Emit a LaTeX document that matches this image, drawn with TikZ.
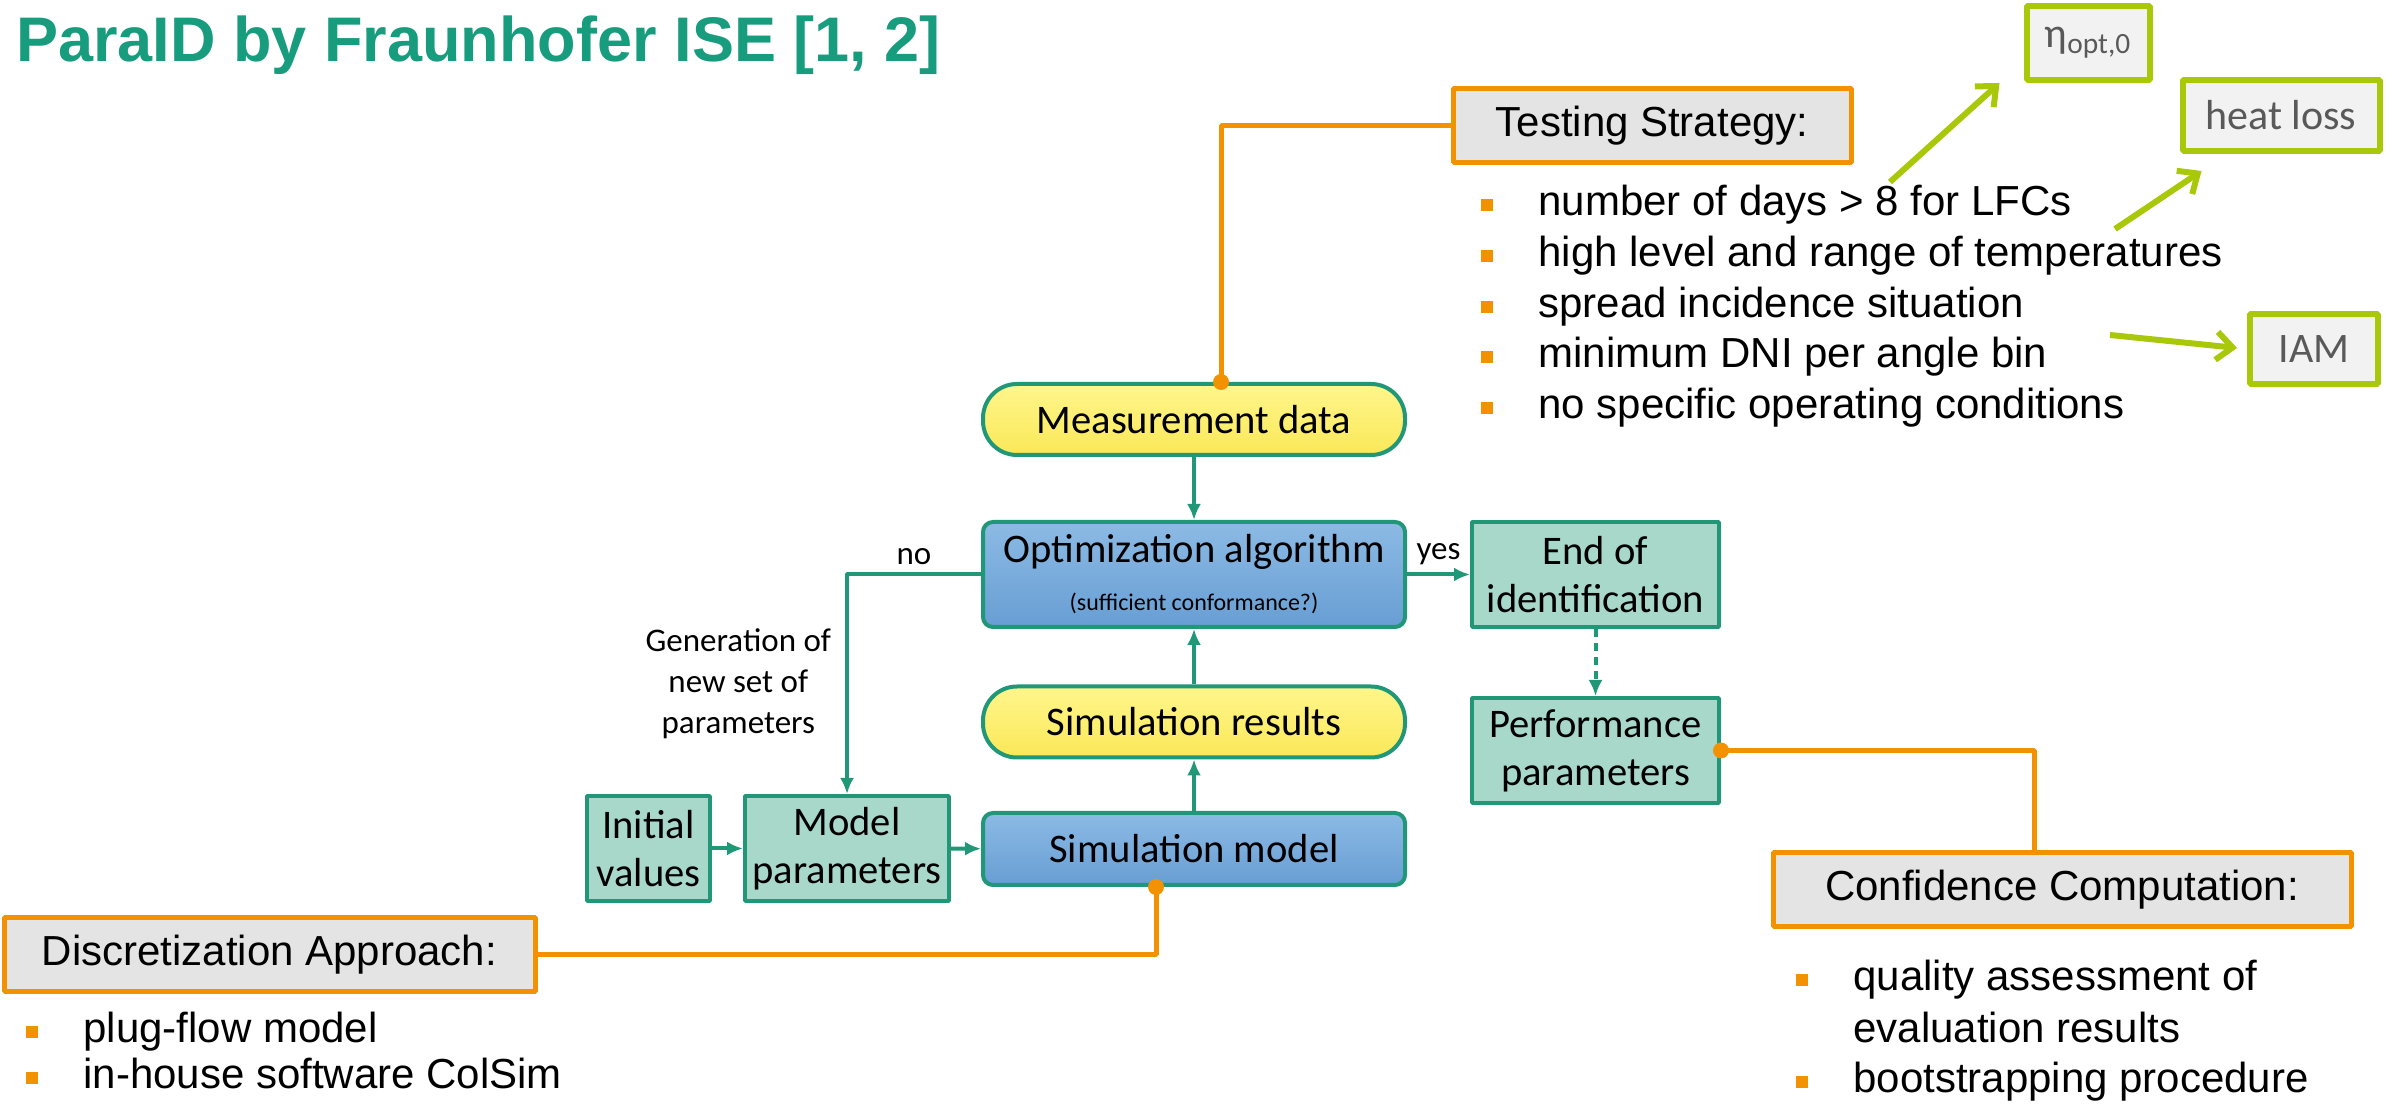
\documentclass[tikz,border=0pt]{standalone}
\usepackage{fontspec}
\setmainfont{Liberation Sans}
\newfontfamily\calfont{Carlito}
\usetikzlibrary{arrows.meta}
\definecolor{fraungreen}{RGB}{23,156,125}
\definecolor{flowline}{RGB}{32,152,120}
\definecolor{tealfill}{RGB}{168,216,201}
\definecolor{bluetop}{RGB}{140,186,228}
\definecolor{bluebot}{RGB}{104,158,212}
\definecolor{yellowtop}{RGB}{255,246,140}
\definecolor{yellowbot}{RGB}{250,232,88}
\definecolor{fraunorange}{RGB}{243,146,0}
\definecolor{boxgray}{RGB}{227,228,227}
\definecolor{limegreen}{RGB}{170,200,10}
\definecolor{palegray}{RGB}{242,242,242}
\definecolor{labelgray}{RGB}{89,89,89}
\begin{document}
\begin{tikzpicture}[>={Latex[length=8bp,width=7bp]},line join=bevel,
  flowtxt/.style={font=\calfont\fontsize{20.3bp}{24bp}\selectfont},
  pill/.style={flowtxt,draw=flowline,line width=2bp,rounded corners=17bp,top color=yellowtop,bottom color=yellowbot,minimum width=211bp,minimum height=35.5bp},
  bluebox/.style={flowtxt,draw=flowline,line width=2bp,rounded corners=5bp,top color=bluetop,bottom color=bluebot,minimum width=211bp,align=center},
  tealbox/.style={flowtxt,draw=flowline,line width=2bp,fill=tealfill,align=center,inner sep=2bp},
  note/.style={font=\calfont\fontsize{16.5bp}{20.5bp}\selectfont,align=center,inner sep=0pt},
  flow/.style={draw=flowline,line width=2bp},
  topic/.style={draw=fraunorange,line width=2.5bp,fill=boxgray,font=\fontsize{21bp}{25.4bp}\selectfont,minimum height=37bp},
  param/.style={draw=limegreen,line width=3bp,fill=palegray,text=labelgray,font=\calfont\fontsize{21bp}{25bp}\selectfont,minimum height=35.5bp},
  listcont/.style={anchor=west,inner sep=0pt,font=\fontsize{21bp}{25.4bp}\selectfont,text height=14.5bp,text depth=4bp},
  listline/.style={listcont,label={[fill=fraunorange,inner sep=0pt,minimum size=6bp,label distance=22.5bp]left:{}}},
  tie/.style={draw=fraunorange,line width=2.5bp},
  pointer/.style={draw=limegreen,line width=3bp,-{Straight Barb[length=8bp,width=14bp]}},
]
\useasboundingbox (0bp,0bp) rectangle (1197bp,552.5bp);
%%
\node (node_title) at (8bp,521.5bp) [anchor=base west,inner sep=0pt,text=fraungreen,font=\bfseries\fontsize{31.5bp}{38bp}\selectfont] {ParaID by Fraunhofer ISE [1, 2]};
%
  \node (node_test) at (826bp,489.5bp) [topic,minimum width=199bp] {Testing Strategy:};
  \node (node_disc) at (134.75bp,75bp) [topic,minimum width=265.5bp] {Discretization Approach:};
  \node (node_conf) at (1031bp,107.5bp) [topic,minimum width=289bp] {Confidence Computation:};
  \node (node_eta) at (1044bp,531bp) [param,minimum width=61.5bp,minimum height=37bp] {η\textsubscript{opt,0}};
  \node (node_heat) at (1140.5bp,494.75bp) [param,minimum width=98.5bp] {heat loss};
  \node (node_iam) at (1157bp,378bp) [param,minimum width=64bp,minimum height=35bp] {IAM};
%
  \node (node_t1) at (769bp,450bp) [listline] {number of days > 8 for LFCs};
  \node (node_t2) at (769bp,424.6bp) [listline] {high level and range of temperatures};
  \node (node_t3) at (769bp,399.2bp) [listline] {spread incidence situation};
  \node (node_t4) at (769bp,373.8bp) [listline] {minimum DNI per angle bin};
  \node (node_t5) at (769bp,348.4bp) [listline] {no specific operating conditions};
  \node (node_d1) at (41.5bp,36.5bp) [listline] {plug-flow model};
  \node (node_d2) at (41.5bp,13.5bp) [listline] {in-house software ColSim};
  \node (node_c1) at (926.5bp,62.5bp) [listline] {quality assessment of};
  \node (node_c2) at (926.5bp,36.5bp) [listcont] {evaluation results};
  \node (node_c3) at (926.5bp,11.5bp) [listline] {bootstrapping procedure};
%
  \node (node_meas) at (597bp,342.75bp) [pill] {Measurement data};
  \node (node_opt) at (597bp,265.25bp) [bluebox,minimum height=52.5bp] {Optimization algorithm\\{\fontsize{12bp}{14bp}\selectfont (sufficient conformance?)}};
  \node (node_res) at (597bp,191.5bp) [pill] {Simulation results};
  \node (node_sim) at (597bp,128bp) [bluebox,minimum height=36bp] {Simulation model};
  \node (node_init) at (324.25bp,128.25bp) [tealbox,minimum width=61.5bp,minimum height=52.5bp] {Initial\\values};
  \node (node_model) at (423.5bp,128.25bp) [tealbox,minimum width=102bp,minimum height=52.5bp] {Model\\parameters};
  \node (node_end) at (797.75bp,265.25bp) [tealbox,minimum width=123.5bp,minimum height=52.5bp] {End of\\identification};
  \node (node_perf) at (797.75bp,177.25bp) [tealbox,minimum width=123.5bp,minimum height=52.5bp] {Performance\\parameters};
%
  \draw [flow,->] (node_meas) -- (node_opt);
  \draw [flow,->] (node_res) -- (node_opt);
  \draw [flow,->] (node_sim) -- (node_res);
  \draw [flow,->] (node_init) -- (node_model);
  \draw [flow,->] (node_model) -- (node_sim);
  \draw [flow,->] (node_opt) -- node (node_yes) [note,above=4bp] {yes} (node_end);
  \draw [flow,->] (node_opt.west) -| node (node_no) [note,pos=0.25,above=4bp] {no} node (node_gen) [note,pos=0.75,left=7bp] {Generation of\\new set of\\parameters} (node_model.north);
  \draw [flow,->,dash pattern=on 4bp off 3bp] (node_end) -- (node_perf);
%
  \coordinate (meas_in) at ([xshift=13.5bp]node_meas.north);
  \coordinate (sim_in) at ([xshift=-19bp]node_sim.south);
  \coordinate (conf_in) at ([xshift=-14bp]node_conf.north);
  \draw [tie] (node_test.west) -| (meas_in);
  \draw [tie] (node_disc.east) -| (sim_in);
  \draw [tie] (node_perf.east) -| (conf_in);
  \fill [fraunorange] (meas_in) circle (4bp);
  \fill [fraunorange] (sim_in) circle (4bp);
  \fill [fraunorange] (node_perf.east) circle (4bp);
%
  \coordinate (eta_from) at (945bp,461.5bp);
  \coordinate (heat_from) at (1057.5bp,438bp);
  \coordinate (iam_from) at (1055bp,385bp);
  \draw [pointer] (eta_from) -- ([xshift=-12bp]node_eta.south west);
  \draw [pointer] (heat_from) -- ([shift={(11bp,-8.5bp)}]node_heat.south west);
  \draw [pointer,shorten >=5bp] (iam_from) -- (node_iam.west);
%
\end{tikzpicture}
\end{document}
